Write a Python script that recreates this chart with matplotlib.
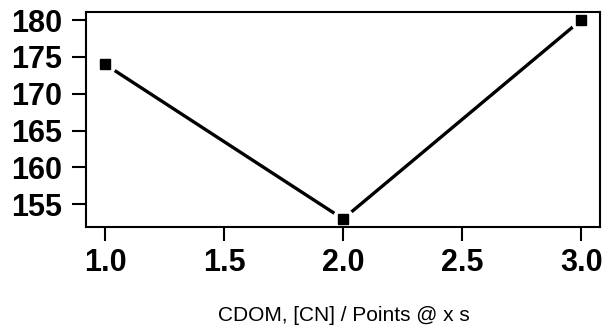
import matplotlib
matplotlib.use("Agg")
import matplotlib.pyplot as plt

# data
x_vals = [1.0, 2.0, 3.0]
y_vals = [174, 153, 180]
x_ticks = [1.0, 1.5, 2.0, 2.5, 3.0]
y_ticks = [155, 160, 165, 170, 175, 180]
x_label = "CDOM, [CN] / Points @ x s"

plt.rcParams['font.family'] = ['Liberation Sans', 'DejaVu Sans']

fig = plt.figure(figsize=(6.05, 3.26), dpi=100)
ax = fig.add_axes([0.142, 0.304, 0.85, 0.659])

# line with gaps around points (like R type="b")
ax.plot(x_vals, y_vals, color='black', lw=2.4, solid_capstyle='butt', zorder=1)
ax.plot(x_vals, y_vals, ls='none', marker='o', ms=15, mfc='white', mec='white', zorder=1.5)
ax.plot(x_vals, y_vals, ls='none', marker='s', ms=6.5, mfc='black', mec='black', zorder=3)

ax.set_xlim(0.92, 3.08)
ax.set_ylim(151.92, 181.08)
ax.set_xticks(x_ticks)
ax.set_xticklabels([f"{v:.1f}" for v in x_ticks])
ax.set_yticks(y_ticks)
ax.set_yticklabels([str(v) for v in y_ticks])

for s in ax.spines.values():
    s.set_linewidth(1.5)
ax.tick_params(direction='out', length=10, width=1.5, labelsize=22)
ax.tick_params(axis='x', pad=5)
ax.tick_params(axis='y', pad=7)
for t in ax.get_xticklabels() + ax.get_yticklabels():
    t.set_fontweight('bold')

# x axis title sits near the bottom edge of the figure
fig.text(0.569, 0.031, x_label, ha='center', va='center', fontsize=15)

fig.savefig("out.png", dpi=100)
